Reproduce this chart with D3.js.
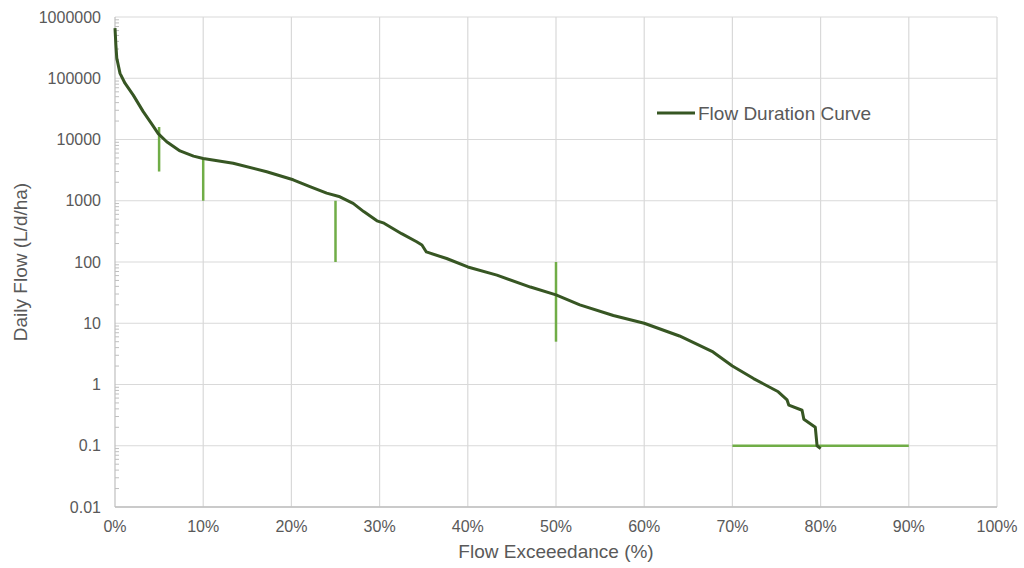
<!DOCTYPE html>
<html>
<head>
<meta charset="utf-8">
<script src="https://cdn.jsdelivr.net/npm/d3@7"></script>
<style>
  body { margin: 0; background: #fff; }
  text { font-family: "Liberation Sans", Arial, sans-serif; fill: #595959; }
</style>
</head>
<body>
<svg id="chart"></svg>
<script>
// flow duration curve
const exceedance = [0, 0.1, 0.2, 0.57, 1.13, 2.07, 3.2, 4.16, 4.9, 5.86, 7.37, 8.9, 10,
  13.4, 17.2, 20.2, 22.1, 24, 25.5, 27, 28.2, 29.7, 30.5, 32.5, 34.2, 34.8, 35.3, 37.6,
  40, 43.3, 47.1, 50, 52.7, 56.5, 60, 64, 67.8, 70, 72.4, 75.2, 76.2, 76.4, 77.9, 78.1,
  79.4, 79.6, 80];
const flow = [660000, 350000, 213000, 120000, 83000, 53000, 28500, 18000, 12500, 9200, 6500, 5350, 4900,
  4100, 2970, 2200, 1700, 1330, 1160, 905, 665, 470, 430, 290, 214, 190, 146, 114,
  83, 61, 39, 29, 20, 13.4, 10, 6.2, 3.4, 2.0, 1.25, 0.76, 0.56, 0.46, 0.38, 0.27,
  0.2, 0.1, 0.09];

// marker lines: [x1, y1, x2, y2]
const markers = [
  [5, 16000, 5, 3000],
  [10, 5000, 10, 1000],
  [25, 1000, 25, 100],
  [50, 100, 50, 5],
  [70, 0.1, 90, 0.1]
];

const yTicks = [0.01, 0.1, 1, 10, 100, 1000, 10000, 100000, 1000000];
const xTicks = [0, 10, 20, 30, 40, 50, 60, 70, 80, 90, 100];

const width = 1024, height = 568;
const margin = {top: 17, right: 27, bottom: 61, left: 115};

const svg = d3.select("#chart").attr("width", width).attr("height", height);

const x = d3.scaleLinear().domain([0, 100]).range([margin.left, width - margin.right]);
const y = d3.scaleLog().domain([0.01, 1000000]).range([height - margin.bottom, margin.top]);

// gridlines
svg.append("g").selectAll("line.h")
  .data(yTicks)
  .enter().append("line")
    .attr("x1", x(0)).attr("x2", x(100))
    .attr("y1", d => y(d)).attr("y2", d => y(d))
    .attr("stroke", "#d9d9d9").attr("stroke-width", 1.2);
svg.append("g").selectAll("line.v")
  .data(xTicks.slice(1))
  .enter().append("line")
    .attr("x1", d => x(d)).attr("x2", d => x(d))
    .attr("y1", y(0.01)).attr("y2", y(1000000))
    .attr("stroke", "#d9d9d9").attr("stroke-width", 1.2);

// minor ticks on the log axis
var minor = [];
yTicks.slice(0, -1).forEach(function(t) {
  for (var k = 2; k < 10; k++) minor.push(t * k);
});
svg.append("g").selectAll("line")
  .data(minor)
  .enter().append("line")
    .attr("x1", x(0)).attr("x2", x(0) + 4)
    .attr("y1", d => y(d)).attr("y2", d => y(d))
    .attr("stroke", "#bfbfbf").attr("stroke-width", 1);

// axes lines
svg.append("line")
  .attr("x1", x(0)).attr("x2", x(0))
  .attr("y1", y(0.01)).attr("y2", y(1000000))
  .attr("stroke", "#bfbfbf").attr("stroke-width", 1.2);
svg.append("line")
  .attr("x1", x(0)).attr("x2", x(100))
  .attr("y1", y(0.01)).attr("y2", y(0.01))
  .attr("stroke", "#bfbfbf").attr("stroke-width", 1.5);

// tick labels
svg.append("g").selectAll("text")
  .data(yTicks)
  .enter().append("text")
    .attr("x", x(0) - 14)
    .attr("y", d => y(d))
    .attr("dy", "0.35em")
    .attr("text-anchor", "end")
    .style("font-size", "16px")
    .text(d => d3.format("")(d));
svg.append("g").selectAll("text")
  .data(xTicks)
  .enter().append("text")
    .attr("x", d => x(d))
    .attr("y", y(0.01) + 25)
    .attr("text-anchor", "middle")
    .style("font-size", "16px")
    .text(d => d + "%");

// axis titles
svg.append("text")
  .attr("x", (x(0) + x(100)) / 2)
  .attr("y", 558)
  .attr("text-anchor", "middle")
  .style("font-size", "19px")
  .text("Flow Exceeedance (%)");
svg.append("text")
  .attr("transform", "translate(27," + (y(0.01) + y(1000000)) / 2 + ") rotate(-90)")
  .attr("text-anchor", "middle")
  .style("font-size", "19px")
  .text("Daily Flow (L/d/ha)");

// marker lines
svg.append("g").selectAll("line")
  .data(markers)
  .enter().append("line")
    .attr("x1", d => x(d[0])).attr("y1", d => y(d[1]))
    .attr("x2", d => x(d[2])).attr("y2", d => y(d[3]))
    .attr("stroke", "#70ad47").attr("stroke-width", 2.5);

// curve
const line = d3.line()
  .x((d, i) => x(exceedance[i]))
  .y(d => y(d));
svg.append("path")
  .datum(flow)
  .attr("fill", "none")
  .attr("stroke", "#375623")
  .attr("stroke-width", 3)
  .attr("stroke-linejoin", "round")
  .attr("d", line);

// legend
const legend = svg.append("g").attr("transform", "translate(657,113)");
legend.append("line")
  .attr("x1", 0).attr("x2", 38)
  .attr("stroke", "#375623").attr("stroke-width", 3);
legend.append("text")
  .attr("x", 41).attr("dy", "0.35em")
  .style("font-size", "19px")
  .text("Flow Duration Curve");
</script>
</body>
</html>
